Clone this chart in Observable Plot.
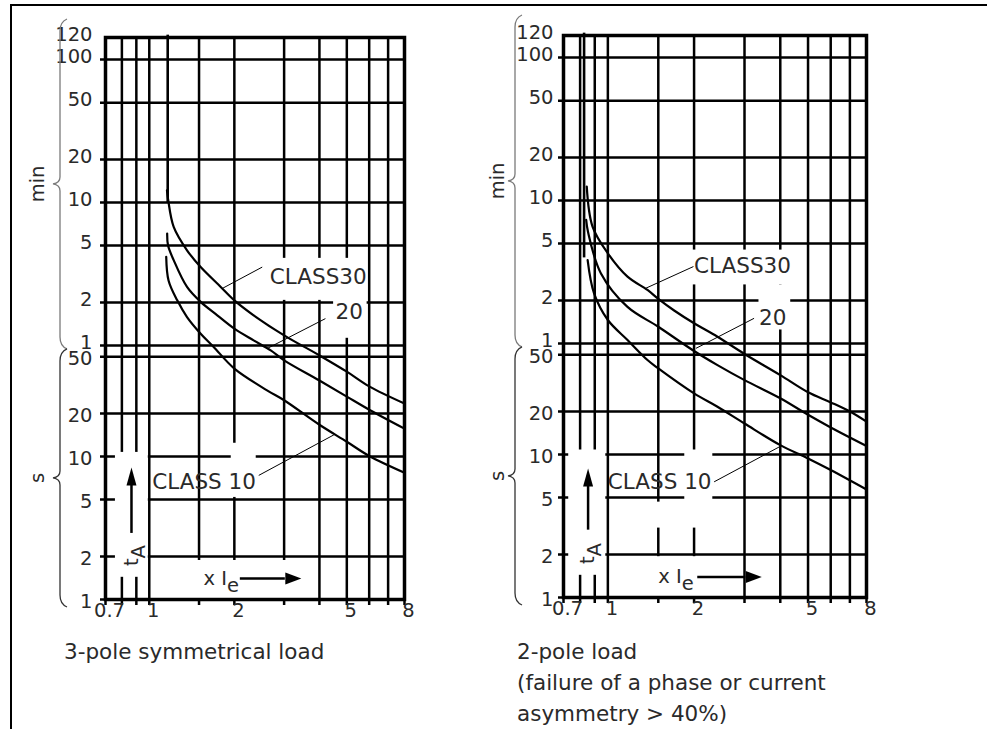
<!DOCTYPE html>
<html>
<head>
<meta charset="utf-8">
<script src="https://cdn.jsdelivr.net/npm/d3@7"></script>
<script src="https://cdn.jsdelivr.net/npm/@observablehq/plot@0.6"></script>
<style>
  html, body { margin: 0; padding: 0; background: #fff; }
  #root { position: relative; width: 987px; height: 729px; overflow: hidden; background: #fff;
          font-family: "DejaVu Sans", sans-serif; }
  #border { position: absolute; left: 10px; top: 4px; right: -4px; bottom: -4px;
            border-top: 2px solid #000; border-left: 2px solid #000; }
  .panel { position: absolute; top: 0; }
  .caption { position: absolute; top: 636px; font-size: 21.5px; line-height: 31px; color: #2a2a2a;
             font-family: "DejaVu Sans", sans-serif; white-space: nowrap; }
</style>
</head>
<body>
<div id="root">
  <div id="border"></div>
  <div id="p1" class="panel" style="left:0px"></div>
  <div id="p2" class="panel" style="left:470px"></div>
  <div class="caption" style="left:64px">3-pole symmetrical load</div>
  <div class="caption" style="left:517px">2-pole load<br>(failure of a phase or current<br>asymmetry &gt; 40%)</div>
</div>
<script>
// ---------------- axes / grid values ----------------
const X_MIN = 0.7, X_MAX = 8;              // multiple of Ie
const Y_MIN = 1, Y_TOP = 8570;             // trip time in seconds (frame top)
const SECONDS_PER_MINUTE = 60;
const xGrid = [0.7, 0.8, 0.9, 1, 1.5, 2, 3, 4, 5, 6, 7, 8];
const xTickLabels = [0.7, 1, 2, 5, 8];
const yGridSeconds = [1, 2, 5, 10, 20, 50, 60, 120, 300, 600, 1200, 3000, 6000];
const secondTickLabels = [1, 2, 5, 10, 20, 50];
const minuteTickLabels = [1, 2, 5, 10, 20, 50, 100];
const minuteTopLabel = [120];

// ---------------- 3-pole symmetrical load: [x Ie, t in s] ----------------
const sym3Class30 = [[1.155,730],[1.167,622],[1.22,405],[1.36,278],[1.52,212],[1.79,154],[2,124],[2.34,97.5],[3,70.6],[4,51.1],[5,39.3],[6,31.0],[8,23.5]];
const sym3Class20 = [[1.157,364],[1.165,301],[1.22,237],[1.36,154],[1.52,121],[1.74,97.5],[2,78.6],[2.34,65.1],[2.69,55.4],[3,47.2],[4,34.1],[5,26.3],[6,21.3],[8,15.7]];
const sym3Class10 = [[1.148,250],[1.17,171],[1.256,124],[1.36,94.8],[1.52,72.5],[1.69,58.5],[2,41.3],[2.61,29.1],[3,24.8],[4,16.7],[5,12.7],[6,10.1],[8,7.71]];
const sym3Asymptote = [{x: 1.162, y1: 593, y2: 8900}];
const sym3Labels = [{text: "CLASS30", x: 2.67, y: 181}, {text: "20", x: 4.56, y: 102}, {text: "CLASS 10", x: 1.024, y: 6.63}];
const sym3Leaders = [{x1: 1.81, y1: 150, x2: 2.51, y2: 212}, {x1: 2.61, y1: 57, x2: 4.2, y2: 92.4}, {x1: 2.44, y1: 7.39, x2: 4.5, y2: 14.2}];
const sym3Masks = [{x1: 2.52, x2: 5.9, y1: 124, y2: 244}, {x1: 4.49, x2: 5.9, y1: 67.3, y2: 128}, {x1: 1.95, x2: 2.39, y1: 5.18, y2: 12.4},
                   {x1: 0.759, x2: 0.992, y1: 1.43, y2: 10.7}, {x1: 1.48, x2: 3.94, y1: 1.0, y2: 1.875}];
const sym3TimeArrow = {x: 0.865, y1: 2.9, y2: 6.29, textY: 2.03};
const sym3CurrentArrow = {textX: 1.556, y: 1.40, x1: 2.10, x2: 3.03};

// ---------------- 2-pole load: [x Ie, t in s] ----------------
const pole2Class30 = [[0.844,750],[0.884,394],[1.0,256],[1.171,176],[1.375,142],[1.5,123],[1.704,102],[2,83],[2.414,66.8],[3,50.6],[4,36],[5,27.3],[6,23.2],[7,20.0],[8,17]];
const pole2Class20 = [[0.84,440],[0.853,360],[0.945,186],[1.171,108],[1.5,78.5],[2,53.1],[2.414,42.3],[3,33.2],[4,24.8],[5,19.0],[6,15.5],[8,11.5]];
const pole2Class10 = [[0.85,230],[0.895,134.5],[1.0,87.5],[1.171,63.4],[1.375,45.9],[1.5,40.1],[2,26.8],[2.414,21.6],[3,16.5],[4,11.65],[5,9.4],[6,7.8],[8,5.7]];
const pole2Asymptote = [{x: 0.826, y1: 238, y2: 8900}];
const pole2Labels = [{text: "CLASS30", x: 2.0, y: 207}, {text: "20", x: 3.37, y: 89.9}, {text: "CLASS 10", x: 1.0, y: 6.45}];
const pole2Leaders = [{x1: 1.357, y1: 146, x2: 1.99, y2: 207}, {x1: 2.03, y1: 55.4, x2: 3.24, y2: 89.9}, {x1: 2.35, y1: 6.45, x2: 3.96, y2: 11.3}];
const pole2Masks = [{x1: 1.947, x2: 4.35, y1: 154, y2: 270}, {x1: 3.37, x2: 4.35, y1: 74.5, y2: 154}, {x1: 1.856, x2: 2.325, y1: 3.06, y2: 10.77},
                    {x1: 1.47, x2: 1.856, y1: 3.06, y2: 4.65}, {x1: 0.730, x2: 0.9835, y1: 1.43, y2: 10.77}, {x1: 1.47, x2: 2.96, y1: 1.0, y2: 1.93}];
const pole2TimeArrow = {x: 0.853, y1: 2.96, y2: 5.99, textY: 2.03};
const pole2CurrentArrow = {textX: 1.5, y: 1.39, x1: 2.06, x2: 3.03};

const INK = "#000";
const TEXT = "#2a2a2a";
const FONT = "DejaVu Sans";

function curveRows(list) {
  return list.flatMap(([cls, pts]) => pts.map(([x, y]) => ({cls, x, y})));
}

function bracePath(x, yA, yB) {
  const yM = (yA + yB) / 2;
  return `M${x + 7},${yA} Q${x},${yA + 3} ${x},${yA + 12} L${x},${yM - 7} Q${x},${yM - 1} ${x - 7},${yM} ` +
         `Q${x},${yM + 1} ${x},${yM + 7} L${x},${yB - 12} Q${x},${yB - 3} ${x + 7},${yB}`;
}

function bracesMark(cfg) {
  return (index, scales, values, dims) => {
    const g = d3.create("svg:g");
    const top = dims.marginTop, bottom = dims.height - dims.marginBottom;
    const x0 = dims.marginLeft - cfg.braceOffset;
    const split = scales.y(SECONDS_PER_MINUTE) + 4;
    const spans = [
      {label: "min", a: top - cfg.braceOver, b: split, color: "#7a7a7a"},
      {label: "s", a: split, b: bottom + 8, color: "#333"}
    ];
    for (const s of spans) {
      g.append("path").attr("d", bracePath(x0, s.a, s.b)).attr("fill", "none")
        .attr("stroke", s.color).attr("stroke-width", 1.3);
      const ym = (s.a + s.b) / 2;
      g.append("text").attr("transform", `translate(${dims.marginLeft - cfg.labelOffset},${ym}) rotate(-90)`)
        .attr("text-anchor", "middle").attr("dy", "0.35em")
        .attr("font-family", FONT).attr("font-size", 19.5).attr("fill", TEXT).text(s.label);
    }
    return g.node();
  };
}

function makePanel(cfg) {
  const svg = Plot.plot({
    width: 470, height: 640,
    marginLeft: cfg.ml, marginRight: cfg.mr, marginTop: cfg.mt, marginBottom: cfg.mb,
    x: {type: "log", domain: [X_MIN, X_MAX], axis: null},
    y: {type: "log", domain: [Y_MIN, Y_TOP], axis: null},
    style: {background: "transparent", overflow: "visible", fontFamily: FONT},
    marks: [
      Plot.ruleY(yGridSeconds, {stroke: INK, strokeWidth: 2.5, insetLeft: -5}),
      Plot.ruleX(xGrid, {stroke: INK, strokeWidth: 2.5, insetBottom: -6}),
      Plot.rect(cfg.masks, {x1: "x1", x2: "x2", y1: "y1", y2: "y2", fill: "#fff"}),
      Plot.ruleX(cfg.asym, {x: "x", y1: "y1", y2: "y2", stroke: INK, strokeWidth: 2.6}),
      Plot.line(curveRows(cfg.curves), {x: "x", y: "y", z: "cls", stroke: INK, strokeWidth: 2.2, curve: "catmull-rom"}),
      Plot.link(cfg.leaders, {x1: "x1", y1: "y1", x2: "x2", y2: "y2", stroke: INK, strokeWidth: 1}),
      Plot.text(cfg.labels, {x: "x", y: "y", text: "text", textAnchor: "start", fontSize: 21.5, fill: TEXT}),
      // t_A arrow
      Plot.ruleX([cfg.tA], {x: "x", y1: "y1", y2: "y2", stroke: INK, strokeWidth: 2.5}),
      Plot.vector([cfg.tA], {x: "x", y: "y2", length: 18, rotate: 0, anchor: "start", shape: "spike", r: 5, fill: INK, stroke: "none"}),
      Plot.text([cfg.tA], {x: "x", y: "textY", text: () => "tA", rotate: -90, fontSize: 19.5, fill: TEXT}),
      // x Ie arrow
      Plot.text([cfg.xIe], {x: "textX", y: "y", text: () => "x Ie", textAnchor: "start", fontSize: 19.5, fill: TEXT}),
      Plot.ruleY([cfg.xIe], {y: "y", x1: "x1", x2: "x2", stroke: INK, strokeWidth: 2.5}),
      Plot.vector([cfg.xIe], {x: "x2", y: "y", length: 16, rotate: 90, anchor: "start", shape: "spike", r: 6, fill: INK, stroke: "none"}),
      Plot.frame({stroke: INK, strokeWidth: 3.5}),
      // tick labels
      Plot.text(secondTickLabels, {y: d => d, text: d => String(d), frameAnchor: "left", textAnchor: "end", dx: cfg.yLabelDx, dy: 2, fontSize: 19.5, fill: TEXT}),
      Plot.text(minuteTickLabels, {y: d => d * SECONDS_PER_MINUTE, text: d => String(d), frameAnchor: "left", textAnchor: "end", dx: cfg.yLabelDx, dy: -3, fontSize: 19.5, fill: TEXT}),
      Plot.text(minuteTopLabel, {y: d => d * SECONDS_PER_MINUTE, text: d => String(d), frameAnchor: "left", textAnchor: "end", lineAnchor: "bottom", dx: cfg.yLabelDx, dy: -7, fontSize: 19.5, fill: TEXT}),
      Plot.text(xTickLabels, {x: d => d, text: d => String(d), frameAnchor: "bottom", dy: 17, dx: 4, fontSize: 19.5, fill: TEXT}),
      bracesMark(cfg)
    ]
  });
  // subscripts
  svg.querySelectorAll("text").forEach(t => {
    const s = t.textContent;
    if (s === "tA" || s === "x Ie") {
      const main = s === "tA" ? "t" : "x I";
      const sub = s === "tA" ? "A" : "e";
      t.textContent = "";
      const ns = "http://www.w3.org/2000/svg";
      const a = document.createElementNS(ns, "tspan"); a.textContent = main;
      const b = document.createElementNS(ns, "tspan"); b.textContent = sub; b.setAttribute("dy", "0.35em");
      t.appendChild(a); t.appendChild(b);
    }
  });
  return svg;
}

document.getElementById("p1").appendChild(makePanel({
  ml: 105, mr: 66, mt: 37, mb: 41, yLabelDx: -13, braceOffset: 45, braceOver: 18, labelOffset: 68,
  curves: [["CLASS 30", sym3Class30], ["CLASS 20", sym3Class20], ["CLASS 10", sym3Class10]],
  asym: sym3Asymptote, masks: sym3Masks, leaders: sym3Leaders, labels: sym3Labels,
  tA: sym3TimeArrow, xIe: sym3CurrentArrow
}));
document.getElementById("p2").appendChild(makePanel({
  ml: 93, mr: 74, mt: 35, mb: 43, yLabelDx: -10, braceOffset: 48, braceOver: 20, labelOffset: 66,
  curves: [["CLASS 30", pole2Class30], ["CLASS 20", pole2Class20], ["CLASS 10", pole2Class10]],
  asym: pole2Asymptote, masks: pole2Masks, leaders: pole2Leaders, labels: pole2Labels,
  tA: pole2TimeArrow, xIe: pole2CurrentArrow
}));
</script>
</body>
</html>
